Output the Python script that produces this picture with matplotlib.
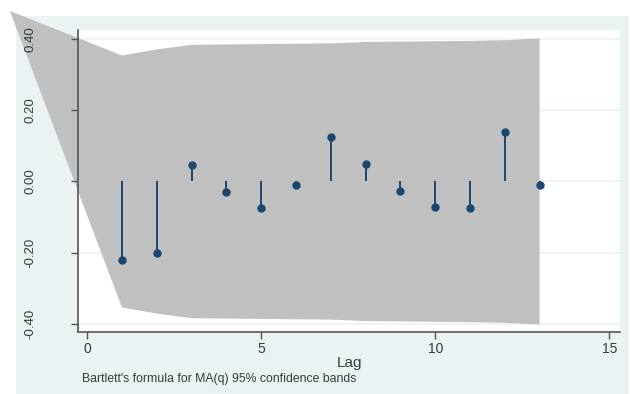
import numpy as np
import matplotlib.pyplot as plt
from matplotlib.patches import Rectangle

plt.rcParams['font.family'] = ['Liberation Sans', 'DejaVu Sans']

# Autocorrelations
lags = np.arange(1, 14)
acf = [-0.221, -0.200, 0.046, -0.029, -0.074, -0.010, 0.126,
       0.049, -0.026, -0.072, -0.075, 0.140, -0.010]

# Bartlett 95% band (half width) per lag
band = [0.354, 0.371, 0.384, 0.385, 0.386, 0.387, 0.388,
        0.392, 0.393, 0.394, 0.395, 0.397, 0.402]
# stray first vertex of the band polygon (as exported)
band_start_lag = -2.22
band_start_val = 0.479

yticks = [-0.4, -0.2, 0.0, 0.2, 0.4]
ytick_labels = ['-0.40', '-0.20', '0.00', '0.20', '0.40']
xticks = [0, 5, 10, 15]

navy = '#1a476f'
panel = '#eaf2f3'

fig = plt.figure(figsize=(6.3, 3.94), dpi=100)
fig.patch.set_facecolor('white')
fig.patches.append(Rectangle((16/630, 0), (629-16)/630, 1-16/394,
                             transform=fig.transFigure, facecolor=panel,
                             edgecolor='none', zorder=-5))

ax = fig.add_axes([78/630, 1-332/394, (620-78)/630, (332-30)/394])
ax.set_facecolor('white')
ax.set_xlim(-0.264, 15.31)
ax.set_ylim(-0.4228, 0.4256)

# grid lines (under the band)
for yv in yticks:
    ax.axhline(yv, color=panel, linewidth=1.2, zorder=0.5)

# confidence band
bx = np.concatenate([[band_start_lag], lags, lags[::-1]])
by = np.concatenate([[band_start_val], band, -np.array(band)[::-1]])
ax.fill(bx, by, color='#c0c0c0', linewidth=0, clip_on=False, zorder=1)

# stems and points
ax.vlines(lags, 0, acf, color=navy, linewidth=1.4, zorder=3)
ax.plot(lags, acf, 'o', color=navy, markersize=5.0, zorder=4)

for s in ['top', 'right']:
    ax.spines[s].set_visible(False)
for s in ['left', 'bottom']:
    ax.spines[s].set_color('#555555')
    ax.spines[s].set_linewidth(1.2)

ax.set_yticks(yticks)
ax.set_yticklabels(ytick_labels, rotation=90, va='center')
ax.set_xticks(xticks)
ax.tick_params(axis='y', length=5, width=1, color='#555555', pad=25,
               labelsize=9.5, labelcolor='#3a3a3a')
ax.tick_params(axis='x', length=5, width=1, color='#555555', pad=2,
               labelsize=10, labelcolor='#3a3a3a')

ax.set_xlabel('Lag', fontsize=11, color='#3a3a3a', labelpad=0)
fig.text(82/630, 1-379/394, "Bartlett's formula for MA(q) 95% confidence bands",
         fontsize=8.8, color='#3a3a3a', va='center', ha='left')

fig.savefig('out.png', dpi=100)
